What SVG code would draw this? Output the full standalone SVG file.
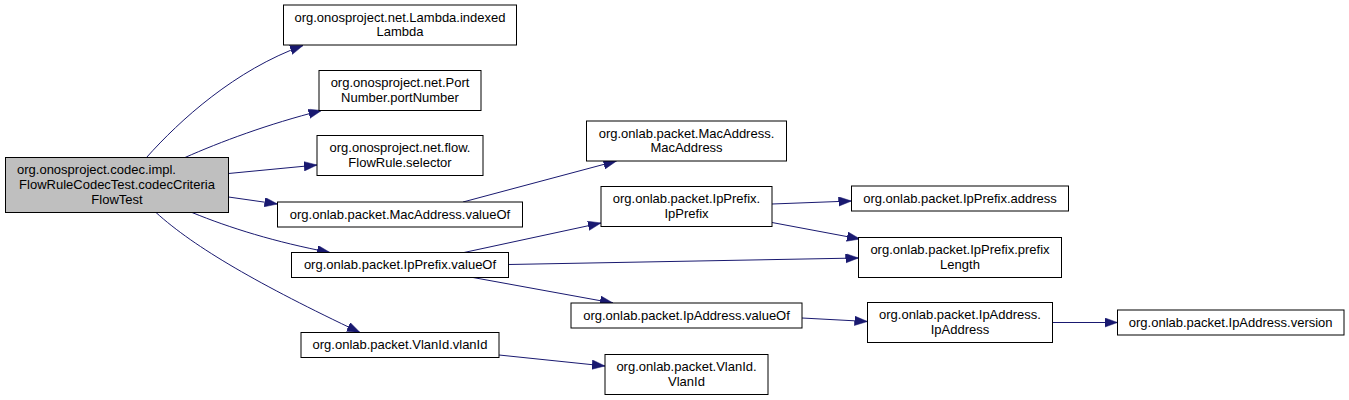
<svg xmlns="http://www.w3.org/2000/svg" width="1349" height="400" viewBox="0 0 1349 400">
<style>
.node rect{fill:#ffffff;stroke:#000000;stroke-width:1}
.node.main rect{fill:#bfbfbf}
.node text{font-family:"Liberation Sans",Arial,Helvetica,sans-serif;font-size:13px;fill:#000000;text-anchor:middle}
.node text.l{text-anchor:start}
.edges path{fill:none;stroke:#191970;stroke-width:1;marker-end:url(#arr)}
</style>
<defs>
<marker id="arr" markerUnits="userSpaceOnUse" markerWidth="14" markerHeight="10" refX="13" refY="4.7" orient="auto">
<path d="M0,0 L13,4.7 L0,9.4 z" fill="#191970" stroke="#191970" stroke-width="0.5"/>
</marker>
</defs>
<rect width="1349" height="400" fill="#ffffff"/>
<g class="edges">
<path d="M146.5,157.5 C180,120 235,70 303,45.5"/>
<path d="M185,157.5 C220,142 268,124 321.5,110.5"/>
<path d="M228.5,173.5 L317,165"/>
<path d="M228.5,197 L277.5,204"/>
<path d="M192,212.5 C230,228 275,242 330,252.5"/>
<path d="M156,212.5 C195,248 260,285 360,332.5"/>
<path d="M463,202 L616.5,161"/>
<path d="M464,252.5 L601,223"/>
<path d="M508.5,264.5 L858.5,258"/>
<path d="M473,277.5 L613,303"/>
<path d="M772,204 L851.5,201"/>
<path d="M772,222.5 L860,239"/>
<path d="M802,318 L867.5,321.5"/>
<path d="M1052.5,322.5 L1117.5,322.5"/>
<path d="M499,355 L605,366"/>
</g>
<g id="node_main" class="node main">
<rect x="5.5" y="157.5" width="223" height="55"/>
<text class="l" x="17" y="174.3">org.onosproject.codec.impl.</text>
<text x="117" y="188.8">FlowRuleCodecTest.codecCriteria</text>
<text x="117" y="203.5">FlowTest</text>
</g>
<g id="node_lambda" class="node">
<rect x="283.5" y="5" width="233" height="40"/>
<text x="400" y="21.5">org.onosproject.net.Lambda.indexed</text>
<text x="400" y="36.2">Lambda</text>
</g>
<g id="node_port" class="node">
<rect x="319" y="70.5" width="162" height="40"/>
<text x="400" y="87">org.onosproject.net.Port</text>
<text x="400" y="101.7">Number.portNumber</text>
</g>
<g id="node_flowrule" class="node">
<rect x="317" y="135.5" width="166" height="40"/>
<text x="400" y="152">org.onosproject.net.flow.</text>
<text x="400" y="166.7">FlowRule.selector</text>
</g>
<g id="node_mac_valueof" class="node">
<rect x="277.5" y="202" width="245" height="25"/>
<text x="400" y="218.8">org.onlab.packet.MacAddress.valueOf</text>
</g>
<g id="node_ipprefix_valueof" class="node">
<rect x="291.5" y="252.5" width="217" height="25"/>
<text x="400" y="269.3">org.onlab.packet.IpPrefix.valueOf</text>
</g>
<g id="node_vlanid_vlanid" class="node">
<rect x="301" y="332.5" width="198" height="25"/>
<text x="400" y="349.3">org.onlab.packet.VlanId.vlanId</text>
</g>
<g id="node_mac_mac" class="node">
<rect x="586.5" y="121" width="200" height="40"/>
<text x="686.5" y="137.5">org.onlab.packet.MacAddress.</text>
<text x="686.5" y="152.2">MacAddress</text>
</g>
<g id="node_ipprefix_ipprefix" class="node">
<rect x="601" y="186.5" width="171" height="40"/>
<text x="686.5" y="203">org.onlab.packet.IpPrefix.</text>
<text x="686.5" y="217.7">IpPrefix</text>
</g>
<g id="node_ipaddress_valueof" class="node">
<rect x="571" y="303" width="231" height="25"/>
<text x="686.5" y="319.8">org.onlab.packet.IpAddress.valueOf</text>
</g>
<g id="node_vlanid_ctor" class="node">
<rect x="605" y="354.5" width="163" height="40"/>
<text x="686.5" y="371">org.onlab.packet.VlanId.</text>
<text x="686.5" y="385.7">VlanId</text>
</g>
<g id="node_ipprefix_address" class="node">
<rect x="851.5" y="186" width="217" height="25"/>
<text x="960" y="202.8">org.onlab.packet.IpPrefix.address</text>
</g>
<g id="node_ipprefix_prefixlength" class="node">
<rect x="858.5" y="237.5" width="203" height="40"/>
<text x="960" y="254">org.onlab.packet.IpPrefix.prefix</text>
<text x="960" y="268.7">Length</text>
</g>
<g id="node_ipaddress_ipaddress" class="node">
<rect x="867.5" y="302.5" width="185" height="40"/>
<text x="960" y="319">org.onlab.packet.IpAddress.</text>
<text x="960" y="333.7">IpAddress</text>
</g>
<g id="node_ipaddress_version" class="node">
<rect x="1117.5" y="310" width="226.5" height="25"/>
<text x="1230.7" y="326.8">org.onlab.packet.IpAddress.version</text>
</g>
</svg>
